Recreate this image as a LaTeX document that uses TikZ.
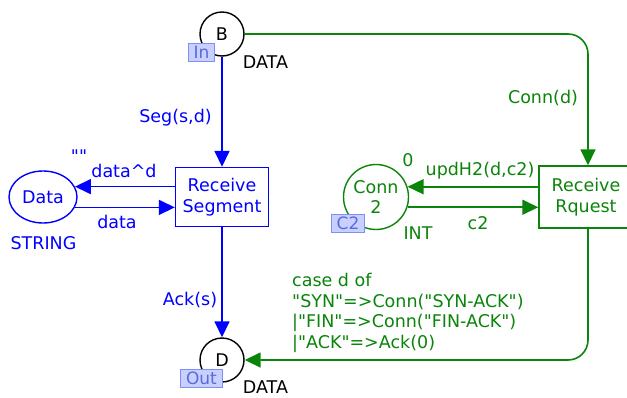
\documentclass[tikz,border=0pt]{standalone}
\usepackage{fontspec}
\setmainfont{DejaVu Sans}[Ligatures=TeXOff]
\usepackage{tikz}
\usetikzlibrary{arrows.meta, shapes.geometric}
\definecolor{cBlue}{HTML}{0000FF}
\definecolor{cGreen}{HTML}{0A840A}
\definecolor{cTagFill}{HTML}{C8D0FF}
\definecolor{cTagLine}{HTML}{7F8FF5}
\definecolor{cTagText}{HTML}{5A6AD8}

\begin{document}
\begin{tikzpicture}[x=1pt, y=-1pt,
  every node/.style={font=\fontsize{17.5}{20.5}\selectfont},
  place/.style={circle, draw, line width=1.4pt, minimum size=44pt, inner sep=0pt, fill=white},
  trans/.style={rectangle, draw, line width=1.4pt, align=center, fill=white},
  tag/.style={draw=cTagLine, line width=0.8pt, fill=cTagFill, text=cTagText, font=\fontsize{17}{17}\selectfont,
              inner xsep=5.5pt, inner ysep=0pt, minimum height=18pt},
  lbl/.style={inner sep=0pt, align=left},
  arc/.style={-{Triangle[length=16pt, width=15pt]}, line width=1.6pt}]
\useasboundingbox (0,0) rectangle (627,397);
\clip (0,0) rectangle (627,397);
% places and transitions
\node[place] (B) at (222,34) {B};
\node[place] (D) at (222,360) {D};
\node[place, ellipse, draw=cBlue, text=cBlue, minimum width=68pt, minimum height=52pt] (Data) at (43,197) {Data};
\node[place, draw=cGreen, text=cGreen, minimum size=65pt, align=center] (Conn) at (376,197) {Conn\\2};
\node[trans, draw=cBlue, text=cBlue, minimum width=93pt, minimum height=59pt] (RS) at (222,197) {Receive\\Segment};
\node[trans, draw=cGreen, text=cGreen, minimum width=98pt, minimum height=62pt] (RR) at (588,197) {};
\node[text=cGreen, align=center] (RRtxt) at (586,197) {Receive\\Rquest};
% port and fusion tags
\node[tag] (tIn) at (201.5,52.5) {In};
\node[tag] (tOut) at (201.5,378.5) {Out};
\node[tag] (tC2) at (348,223) {C2};
% arcs
\draw[arc, cBlue] (B) -- (RS);
\draw[arc, cBlue] (RS) -- (D);
\draw[arc, cBlue] (RS.west |- Data.18) -- (Data.18);
\draw[arc, cBlue] (Data.-18) -- (RS.west |- Data.-18);
\draw[arc, cGreen, rounded corners=20pt] (B) -| (RR);
\draw[arc, cGreen, rounded corners=20pt] (RR) |- (D);
\draw[arc, cGreen] (RR.west |- Conn.18) -- (Conn.18);
\draw[arc, cGreen] (Conn.-18) -- (RR.west |- Conn.-18);
% inscriptions
\node[lbl] (lB) at (265.5,62.5) {DATA};
\node[lbl] (lD) at (265.5,387) {DATA};
\node[lbl, text=cBlue] (lSeg) at (175.5,118) {Seg(s,d)};
\node[lbl, text=cBlue] (lAck) at (190,300) {Ack(s)};
\node[lbl, text=cBlue] (lUpd) at (124,171) {data\textasciicircum d};
\node[lbl, text=cBlue] (lGet) at (117,222) {data};
\node[lbl, text=cBlue] (lInit) at (79,156) {""};
\node[lbl, text=cBlue] (lStr) at (43.5,243) {STRING};
\node[lbl, text=cGreen] (lConn) at (543,98) {Conn(d)};
\node[lbl, text=cGreen] (lUpdH) at (480,171) {updH2(d,c2)};
\node[lbl, text=cGreen] (lC2) at (478,223) {c2};
\node[lbl, text=cGreen] (lZero) at (408,160) {0};
\node[lbl, text=cGreen] (lInt) at (418,233) {INT};
\node[lbl, text=cGreen, anchor=west] (lCase) at (292,313) {case d of\\"SYN"=>Conn("SYN-ACK")\\|"FIN"=>Conn("FIN-ACK")\\|"ACK"=>Ack(0)};
\end{tikzpicture}
\end{document}
